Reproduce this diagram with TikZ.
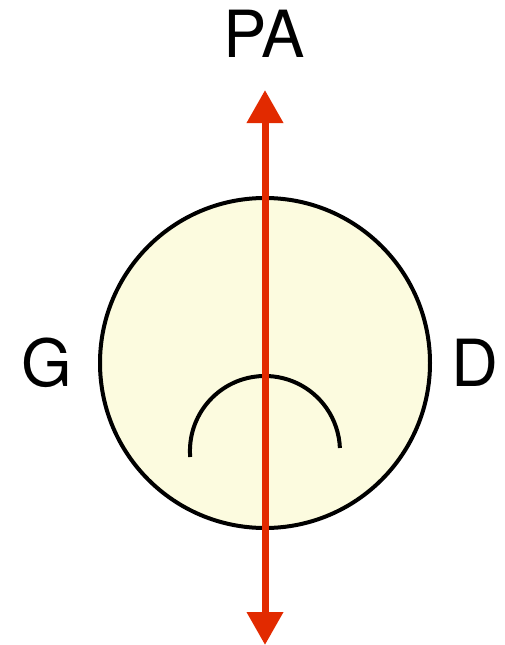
\documentclass[tikz,border=0pt]{standalone}
\usepackage{fontspec}
\setmainfont{TeX Gyre Heros}
\usetikzlibrary{arrows.meta}
\definecolor{disc}{HTML}{FCFBDF}
\definecolor{axisred}{HTML}{E22A00}
\tikzset{
  disc/.style={circle, draw=black, fill=disc, line width=4pt, minimum size=330pt, inner sep=0pt},
  lbl/.style={anchor=base, inner sep=0pt, font=\fontsize{65}{65}\selectfont},
  arcline/.style={draw=black, line width=4pt},
  axis/.style={draw=axisred, line width=7pt,
    {Triangle[length=33pt,width=35pt]}-{Triangle[length=33pt,width=35pt]}}
}
\begin{document}
\begin{tikzpicture}[x=1pt,y=1pt]
\useasboundingbox (0,0) rectangle (505,-645);
\node[disc] (c) at (265,-363) {};
\draw[arcline] (190.2,-457) arc[start angle=184.6, end angle=2.3, radius=75];
\coordinate (top) at (265,-90);
\coordinate (bot) at (265,-645);
\draw[axis] (bot) -- (top);
\node[lbl] (pa) at (264,-57) {PA};
\node[lbl] (g) at (47,-386) {G};
\node[lbl] (d) at (475,-386) {D};
\end{tikzpicture}
\end{document}
